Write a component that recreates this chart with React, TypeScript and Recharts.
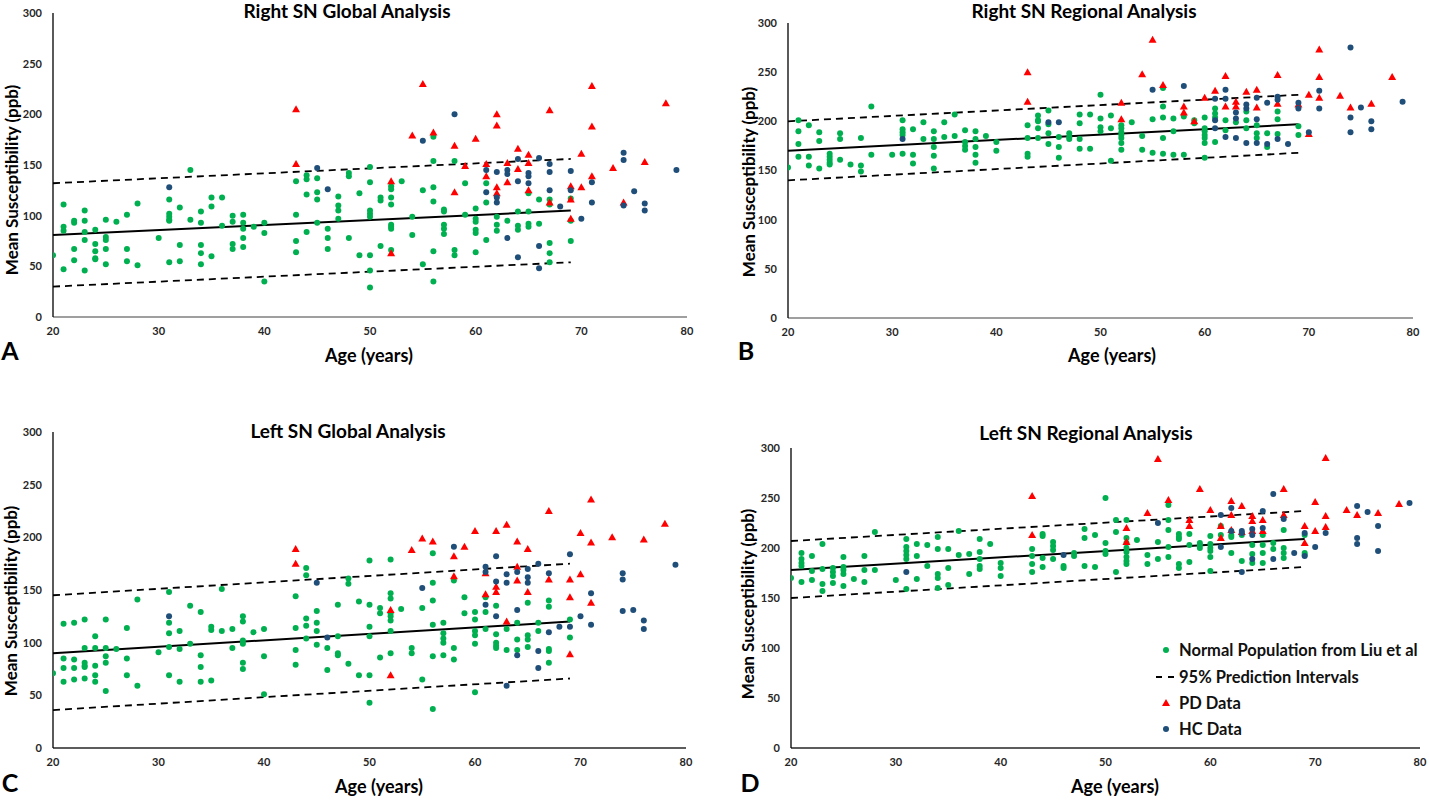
import React from "react";
import { ScatterChart, Scatter, XAxis, YAxis, ReferenceLine } from "recharts";

// values grouped by age: [age, [values...]]
type Group = [number, number[]];

const AGE_TICKS = [20, 30, 40, 50, 60, 70, 80];
const VALUE_TICKS = [0, 50, 100, 150, 200, 250, 300];
const FIT_AGES = [20, 69];

// ---- A: Right SN Global
const normalA: Group[] = [
    [20, [61]], [21, [111, 89, 85, 47]], [22, [95, 93, 67, 56]], [23, [105, 95, 84, 76, 46]],
    [24, [86, 72, 65, 58, 57]], [25, [96, 79, 76, 67, 52]], [26, [94]], [27, [101, 67, 55]],
    [28, [112, 51]], [30, [78]], [31, [116, 102, 99, 96, 95, 54]], [32, [108, 71, 55]],
    [33, [145, 96]], [34, [104, 93, 71, 63, 52]], [35, [118, 109, 60]], [36, [118, 90]],
    [37, [100, 94, 72, 67]], [38, [101, 93, 87, 78, 69]], [39, [89]], [40, [93, 83, 35]],
    [43, [134, 101, 75, 64]], [44, [140, 136, 121, 84]], [45, [137, 123, 116, 93]],
    [46, [87, 78, 67]], [47, [119, 110, 105, 97]], [48, [142, 139, 78]], [49, [122, 61]],
    [50, [148, 133, 105, 102, 99, 61, 46, 29]], [51, [118, 115, 70]],
    [52, [129, 126, 118, 111, 91, 89, 87, 66]], [53, [134]], [54, [99, 81]], [55, [125, 52]],
    [56, [178, 154, 128, 114, 65, 35]], [57, [106, 104, 91, 87, 82]], [58, [154, 66, 61]],
    [59, [132, 101]], [60, [107, 97, 94, 86, 83, 64]], [61, [132, 113, 76]], [62, [99, 91, 85]],
    [63, [95]], [64, [104, 90, 86]], [65, [122, 104, 92, 89]], [66, [116, 92]],
    [67, [116, 111, 73, 63, 54]], [69, [117, 95, 75]],
];
const pdA: Group[] = [
    [43, [205, 151]], [52, [134, 63]], [54, [179]], [55, [230]], [56, [182]], [58, [169, 123]],
    [59, [149]], [60, [176]], [61, [151, 139]], [62, [200, 189, 128, 122]], [63, [152, 133]],
    [64, [166, 146]], [65, [160, 152, 125]], [67, [204, 113]], [69, [129, 116, 97]],
    [70, [161, 128]], [71, [228, 188, 139]], [73, [147]], [74, [113]], [76, [153]], [78, [211]],
];
const hcA: Group[] = [
    [31, [128]], [45, [147]], [46, [126]], [55, [174]], [58, [200]], [61, [145, 123]],
    [62, [143, 118, 113]], [63, [145, 141, 78]], [64, [156, 134, 59]], [65, [142, 139, 132]],
    [66, [157, 70, 48]], [67, [151, 143, 125]], [68, [109]], [69, [144, 125]], [70, [97]],
    [71, [133, 113]], [74, [162, 155, 110]], [75, [124]], [76, [112, 105]], [79, [145]],
];
const fitA = [81, 105];
const upperA = [132, 156];
const lowerA = [30, 54];

// ---- B: Right SN Regional
const normalB: Group[] = [
    [20, [153]], [21, [201, 190, 177, 164]], [22, [196, 164, 155]], [23, [189, 180, 152]],
    [24, [167, 164, 161, 158, 156]], [25, [188, 182, 161]], [26, [156]], [27, [183, 155, 149]],
    [28, [215, 166]], [30, [166]], [31, [201, 192, 189, 186, 167]], [32, [192, 166, 157]],
    [33, [199, 182]], [34, [190, 182, 174, 165, 152]], [35, [199, 184]], [36, [207, 185]],
    [37, [191, 179, 175, 171]], [38, [190, 182, 174, 166, 158]], [39, [185]], [40, [179, 170]],
    [43, [196, 183, 167, 164]], [44, [206, 201, 200, 193, 183]], [45, [211, 197, 188, 177]],
    [46, [184, 174, 163]], [47, [188, 184, 182]], [48, [207, 198, 182, 172]], [49, [207, 172]],
    [50, [227, 203, 194, 190]], [51, [206, 193, 160]], [52, [196, 193, 189, 186, 183, 178, 171]],
    [53, [199]], [54, [185, 171]], [55, [202, 168]], [56, [234, 215, 204, 183, 167]],
    [57, [203, 190, 166]], [58, [205, 166]], [59, [201, 198]],
    [60, [204, 193, 190, 186, 183, 178, 163]], [61, [213, 208, 204, 179]], [62, [201, 191]],
    [63, [199]], [64, [210, 201, 193]], [65, [196, 188, 183]], [66, [188, 174]],
    [67, [210, 202, 187]], [69, [195, 186]],
];
const pdB: Group[] = [
    [43, [250, 220]], [52, [219, 202]], [54, [248]], [55, [283]], [56, [237]], [58, [215, 209]],
    [59, [200]], [60, [224]], [61, [231]], [62, [246, 215]], [63, [220, 215]], [64, [230]],
    [65, [232, 214]], [67, [247, 218]], [69, [217]], [70, [227, 187]], [71, [273, 245, 224]],
    [73, [226]], [74, [214]], [76, [218]], [78, [245]],
];
const hcB: Group[] = [
    [31, [182]], [45, [199]], [46, [199]], [55, [232]], [58, [236]], [61, [223, 201, 193]],
    [62, [232, 223, 184]], [63, [209, 203, 183]], [64, [217, 213, 178]], [65, [224, 202, 178]],
    [66, [219, 177]], [67, [225, 222, 182]], [68, [177]], [69, [219, 213]], [70, [189]],
    [71, [231, 213]], [74, [275, 204, 189]], [75, [214]], [76, [200, 192]], [79, [220]],
];
const fitB = [170, 197];
const upperB = [200, 227];
const lowerB = [140, 168];

// ---- C: Left SN Global
const normalC: Group[] = [
    [20, [71]], [21, [118, 85, 76, 63]], [22, [119, 84, 76, 65]], [23, [122, 95, 81, 78, 77, 66]],
    [24, [106, 95, 78, 69, 63]], [25, [122, 95, 87, 81, 54]], [26, [94]], [27, [114, 85, 69]],
    [28, [141, 59]], [30, [91]], [31, [148, 119, 109, 96, 69]], [32, [111, 94, 63]],
    [33, [135, 99]], [34, [129, 88, 77, 63]], [35, [115, 112, 64]], [36, [151, 111]],
    [37, [113, 95]], [38, [125, 120, 102, 99, 81, 75]], [39, [110]], [40, [113, 87, 51]],
    [43, [144, 114, 93, 79]], [44, [171, 164, 123, 116, 104]], [45, [130, 119, 111, 98]],
    [46, [95, 74]], [47, [136, 106, 90, 88]], [48, [161, 156, 80]], [49, [139, 69]],
    [50, [178, 136, 115, 106, 69, 43]], [51, [133, 128, 86]],
    [52, [179, 147, 142, 128, 125, 121, 111, 90]], [53, [132]], [54, [95, 90]], [55, [133, 65]],
    [56, [185, 157, 140, 117, 87, 37]], [57, [119, 109, 104, 100, 88]], [58, [159, 95, 84]],
    [59, [143, 128]], [60, [129, 122, 111, 107, 99, 53]], [61, [143, 129, 113]],
    [62, [135, 108, 100, 97, 95]], [63, [113, 93]], [64, [119, 103, 93]],
    [65, [138, 107, 103, 96]], [66, [119, 111]], [67, [140, 134, 94, 92, 81]], [69, [122, 105]],
];
const pdC: Group[] = [
    [43, [189, 175]], [52, [131, 69]], [54, [188]], [55, [199]], [56, [196]], [58, [182, 163]],
    [59, [191]], [60, [206]], [61, [166, 146]], [62, [206, 153, 148]], [63, [212, 120]],
    [64, [196, 172, 159]], [65, [189, 148]], [67, [225, 160]], [69, [160, 143, 89]],
    [70, [204, 165]], [71, [236, 195, 138]], [73, [200]], [76, [198]], [78, [213]],
];
const hcC: Group[] = [
    [31, [125]], [45, [157]], [46, [105]], [55, [152]], [58, [191]], [61, [172, 167, 136]],
    [62, [182, 158, 125]], [63, [165, 157, 59]], [64, [167, 131, 88]], [65, [170, 162, 157]],
    [66, [175, 92, 76]], [67, [166, 110]], [68, [115]], [69, [184, 115]], [70, [125]],
    [71, [147, 117]], [74, [166, 160, 130]], [75, [131]], [76, [121, 113]], [79, [174]],
];
const fitC = [90, 120];
const upperC = [145, 175];
const lowerC = [36, 66];

// ---- D: Left SN Regional
const normalD: Group[] = [
    [20, [170]], [21, [195, 189, 185, 182, 166]], [22, [192, 177, 168]], [23, [204, 179, 164, 157]],
    [24, [180, 176, 172, 165]], [25, [191, 181, 178, 174, 162]], [26, [169]], [27, [192, 178, 166]],
    [28, [216, 178]], [30, [168]], [31, [209, 201, 197, 193, 189, 159]], [32, [204, 192, 169]],
    [33, [203, 182]], [34, [211, 199, 174, 170, 160]], [35, [199, 180, 163]], [36, [217, 193]],
    [37, [194, 174]], [38, [209, 196, 189, 182, 179]], [39, [204]], [40, [185, 180, 172]],
    [43, [199, 192, 184, 176]], [44, [214, 212, 190, 181]], [45, [206, 202, 198, 189]],
    [46, [182, 180]], [47, [195, 192]], [48, [219, 210, 182]], [49, [213, 181]],
    [50, [250, 205, 197, 194]], [51, [228, 216, 176]], [52, [228, 210, 205, 200, 196, 191, 187, 184]],
    [53, [208]], [54, [193, 184]], [55, [206, 189]], [56, [243, 228, 218, 201, 191]],
    [57, [214, 211, 209, 184, 180]], [58, [214, 203, 186]], [59, [205, 203, 200]],
    [60, [212, 204, 200, 197, 191, 177]], [61, [222, 213]], [62, [213, 211, 195]],
    [63, [213, 187]], [64, [203, 194, 185]], [65, [213, 203, 195, 185]], [66, [205, 199]],
    [67, [218, 200, 195, 190]], [69, [213, 195, 193]],
];
const pdD: Group[] = [
    [43, [252, 213]], [52, [220, 206]], [54, [235]], [55, [289]], [56, [248]], [58, [228, 222]],
    [59, [259]], [60, [238]], [61, [222, 210]], [62, [247, 233, 218]], [63, [242, 216]],
    [64, [232, 227, 217]], [65, [228, 217]], [67, [259, 233]], [69, [222, 205]], [70, [246, 217]],
    [71, [290, 232, 221]], [73, [238]], [74, [233]], [76, [235]], [78, [244]],
];
const hcD: Group[] = [
    [31, [176]], [46, [193]], [55, [225]], [61, [233, 201]], [62, [240, 217]],
    [63, [217, 215, 176]], [64, [219, 213, 189]], [65, [237, 220]], [66, [254, 189]], [67, [229]],
    [68, [195]], [69, [215, 192]], [70, [201]], [71, [215]], [74, [242, 210, 204]], [75, [236]],
    [76, [222, 197]], [79, [245]],
];
const fitD = [178, 209];
const upperD = [207, 237];
const lowerD = [150, 181];

const GREEN = "#00B050";
const RED = "#FF0000";
const BLUE = "#1F4E79";
const FONT = "Lato, 'Open Sans', sans-serif";

const expand = (groups: Group[]) =>
    groups.flatMap(([age, vals]) => vals.map((value) => ({ age, value })));

const dot = (color: string) => (p: any) => <circle cx={p.cx} cy={p.cy} r={3} fill={color} />;
const tri = (p: any) => (
    <polygon
        points={`${p.cx},${p.cy - 4} ${p.cx + 4},${p.cy + 3} ${p.cx - 4},${p.cy + 3}`}
        fill={RED}
    />
);

const seg = (vals: number[]) => [
    { x: FIT_AGES[0], y: vals[0] },
    { x: FIT_AGES[1], y: vals[1] },
];

type PanelProps = {
    plot: number[]; // x0, y0, x1, y1 on the page
    normal: Group[];
    pd: Group[];
    hc: Group[];
    fit: number[];
    upper: number[];
    lower: number[];
    xAxisColor: string;
};

function Panel({ plot, normal, pd, hc, fit, upper, lower, xAxisColor }: PanelProps) {
    const [x0, y0, x1, y1] = plot;
    const tick = { fontSize: 11, fontWeight: 700, fill: "#262626", fontFamily: FONT };
    return (
        <div style={{ position: "absolute", left: x0 - 50, top: y0 - 10 }}>
            <ScatterChart
                width={x1 - x0 + 60}
                height={y1 - y0 + 45}
                margin={{ top: 10, right: 10, bottom: 0, left: 0 }}
            >
                <XAxis
                    type="number"
                    dataKey="age"
                    domain={[20, 80]}
                    ticks={AGE_TICKS}
                    tickLine={false}
                    tickMargin={4}
                    axisLine={{ stroke: xAxisColor, strokeWidth: 1.3 }}
                    tick={tick}
                    height={35}
                    allowDataOverflow
                />
                <YAxis
                    type="number"
                    dataKey="value"
                    domain={[0, 300]}
                    ticks={VALUE_TICKS}
                    tickLine={false}
                    tickMargin={5}
                    axisLine={{ stroke: "#000", strokeWidth: 1.3 }}
                    tick={tick}
                    width={50}
                    allowDataOverflow
                />
                <Scatter data={expand(normal)} shape={dot(GREEN)} isAnimationActive={false} />
                <ReferenceLine segment={seg(upper)} stroke="#000" strokeWidth={1.8} strokeDasharray="7 5" ifOverflow="visible" />
                <ReferenceLine segment={seg(lower)} stroke="#000" strokeWidth={1.8} strokeDasharray="7 5" ifOverflow="visible" />
                <ReferenceLine segment={seg(fit)} stroke="#000" strokeWidth={2} ifOverflow="visible" />
                <Scatter data={expand(pd)} shape={tri} isAnimationActive={false} />
                <Scatter data={expand(hc)} shape={dot(BLUE)} isAnimationActive={false} />
            </ScatterChart>
        </div>
    );
}

const Text = ({ x, y, size, children, rotate }: any) => (
    <div
        style={{
            position: "absolute",
            left: x,
            top: y,
            transform: `translate(-50%, -50%)${rotate ? " rotate(-90deg)" : ""}`,
            whiteSpace: "nowrap",
            fontSize: size,
            fontWeight: 700,
            color: "#000",
            lineHeight: 1,
        }}
    >
        {children}
    </div>
);

const LegendRow = ({ y, icon, label }: any) => (
    <div style={{ position: "absolute", left: 1150, top: y - 10, height: 20, display: "flex", alignItems: "center" }}>
        <svg width={29} height={20}>
            {icon}
        </svg>
        <span style={{ fontSize: 16.5, fontWeight: 700, color: "#111" }}>{label}</span>
    </div>
);

export default function App() {
    return (
        <div style={{ position: "relative", width: 1429, height: 802, background: "#fff", fontFamily: FONT, overflow: "hidden" }}>
            <style>{"body{margin:0}"}</style>
            <Panel plot={[53, 13, 687, 317]} normal={normalA} pd={pdA} hc={hcA} fit={fitA} upper={upperA} lower={lowerA} xAxisColor="#7f7f7f" />
            <Panel plot={[788, 23, 1413, 318]} normal={normalB} pd={pdB} hc={hcB} fit={fitB} upper={upperB} lower={lowerB} xAxisColor="#7f7f7f" />
            <Panel plot={[53, 432, 686, 748]} normal={normalC} pd={pdC} hc={hcC} fit={fitC} upper={upperC} lower={lowerC} xAxisColor="#262626" />
            <Panel plot={[791, 448, 1420, 748]} normal={normalD} pd={pdD} hc={hcD} fit={fitD} upper={upperD} lower={lowerD} xAxisColor="#262626" />

            <Text x={347} y={10} size={19}>Right SN Global Analysis</Text>
            <Text x={1084} y={10} size={19}>Right SN Regional Analysis</Text>
            <Text x={348} y={430} size={19}>Left SN Global Analysis</Text>
            <Text x={1086} y={432} size={19}>Left SN Regional Analysis</Text>

            <Text x={11} y={180} size={17} rotate>Mean Susceptibility (ppb)</Text>
            <Text x={748} y={182} size={17} rotate>Mean Susceptibility (ppb)</Text>
            <Text x={10} y={601} size={17} rotate>Mean Susceptibility (ppb)</Text>
            <Text x={747} y={604} size={17} rotate>Mean Susceptibility (ppb)</Text>

            <Text x={369} y={355} size={18}>Age (years)</Text>
            <Text x={1112} y={355} size={18}>Age (years)</Text>
            <Text x={379} y={786} size={18}>Age (years)</Text>
            <Text x={1115} y={786} size={18}>Age (years)</Text>

            <Text x={10} y={350} size={25}>A</Text>
            <Text x={746} y={350} size={25}>B</Text>
            <Text x={10} y={782} size={25}>C</Text>
            <Text x={750} y={782} size={25}>D</Text>

            <LegendRow y={650} label="Normal Population from Liu et al" icon={<circle cx={16} cy={10} r={3} fill={GREEN} />} />
            <LegendRow
                y={677}
                label="95% Prediction Intervals"
                icon={<line x1={6} y1={10} x2={24} y2={10} stroke="#000" strokeWidth={1.8} strokeDasharray="6 6" />}
            />
            <LegendRow y={703} label="PD Data" icon={<polygon points="16,6 20,13 12,13" fill={RED} />} />
            <LegendRow y={729} label="HC Data" icon={<circle cx={16} cy={10} r={3} fill={BLUE} />} />
        </div>
    );
}
